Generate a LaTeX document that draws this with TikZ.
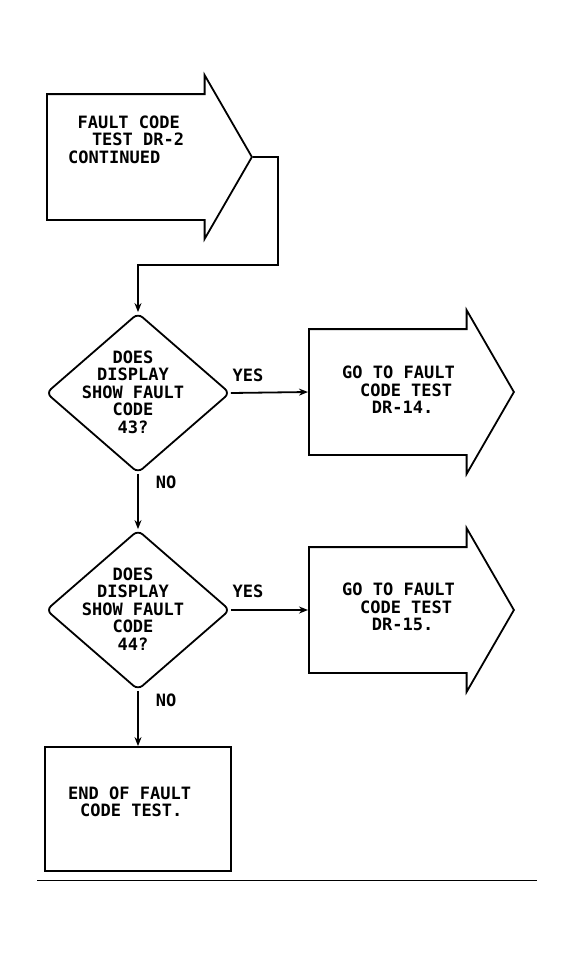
\documentclass[tikz,border=0pt]{standalone}
\usepackage{fontspec}
\usetikzlibrary{shapes.geometric,shapes.arrows,arrows.meta,positioning}
\newfontfamily\plotfont{DejaVu Sans Mono}

\tikzstyle{goarrow} = [single arrow, draw, line width=1.8pt, minimum height=205pt, inner xsep=0pt, inner ysep=62pt, single arrow head extend=19pt, single arrow tip angle=120, anchor=tail]
\tikzstyle{decision} = [diamond, draw, line width=1.8pt, minimum width=184pt, minimum height=160pt, inner sep=0pt, rounded corners=6pt]
\tikzstyle{block} = [rectangle, draw, line width=1.8pt, minimum width=186pt, minimum height=124pt]
\tikzstyle{txt} = [font=\plotfont\bfseries\fontsize{17}{17.5}\selectfont, inner sep=0pt, align=left]
\tikzstyle{line} = [draw, -{Stealth[length=9pt,width=7pt]}, line width=1.8pt]

\begin{document}
\begin{tikzpicture}[x=1pt, y=-1pt]
    \useasboundingbox (0,0) rectangle (575,956);

    % continued from DR-2
    \node [goarrow] (contd) at (46,157) {};
    \node [txt, anchor=west] (contdtext) at (68,139.5)
        {\hspace*{0.55em}FAULT CODE\\\hspace*{1.4em}TEST DR-2\\CONTINUED};
    \coordinate (jog) at (278,265);

    % code 43
    \node [decision] (q43) at (138,393) {};
    \node [txt, align=center] (q43text) at (133,392)
        {DOES\\DISPLAY\\SHOW FAULT\\CODE\\43?};
    \node [goarrow] (go14) at (308,392) {};
    \node [txt, anchor=west] (go14text) at (342,390)
        {GO TO FAULT\\\hspace*{1.05em}CODE TEST\\\hspace*{1.75em}DR-14.};

    % code 44
    \node [decision] (q44) at (138,610) {};
    \node [txt, align=center] (q44text) at (133,609)
        {DOES\\DISPLAY\\SHOW FAULT\\CODE\\44?};
    \node [goarrow] (go15) at (308,610) {};
    \node [txt, anchor=west] (go15text) at (342,607)
        {GO TO FAULT\\\hspace*{1.05em}CODE TEST\\\hspace*{1.75em}DR-15.};

    % end of test
    \node [block] (endtest) at (138,809) {};
    \node [txt, anchor=west] (endtext) at (68,802)
        {END OF FAULT\\\hspace*{0.7em}CODE TEST.};

    % answers
    \node [txt] (yes43) at (248,375) {YES};
    \node [txt] (no43) at (166,482) {NO};
    \node [txt] (yes44) at (248,591) {YES};
    \node [txt] (no44) at (166,700) {NO};

    % Path
    \path[line] (contd.tip) -| (jog) -| (q43.north);
    \path[line] (q43.east) -- (go14.tail);
    \path[line] (q43.south) -- (q44.north);
    \path[line] (q44.east) -- (go15.tail);
    \path[line] (q44.south) -- (endtest.north);

    % rule
    \draw[line width=1pt] (37,880) -- (537,880);

\end{tikzpicture}
\end{document}
